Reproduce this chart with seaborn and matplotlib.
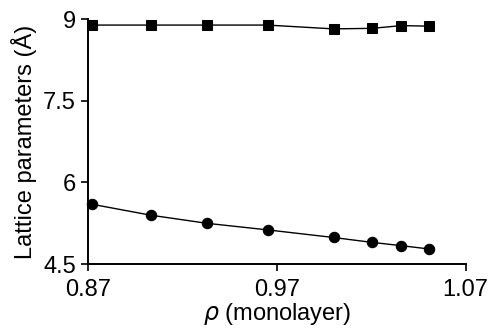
import matplotlib
matplotlib.use("Agg")
import matplotlib.pyplot as plt
import seaborn as sns
import pandas as pd

rho = [0.872, 0.903, 0.933, 0.965, 1.000, 1.0205, 1.036, 1.0505]
lat_b = [8.89, 8.89, 8.89, 8.89, 8.82, 8.83, 8.88, 8.87]
lat_a = [5.60, 5.40, 5.25, 5.13, 4.99, 4.90, 4.84, 4.78]

xticks = [0.87, 0.97, 1.07]
xticklabels = ["0.87", "0.97", "1.07"]
yticks = [4.5, 6, 7.5, 9]
yticklabels = ["4.5", "6", "7.5", "9"]

sns.set_style("ticks")
plt.rcParams['font.family'] = ['Liberation Sans', 'DejaVu Sans']
plt.rcParams['text.color'] = 'black'
plt.rcParams['axes.labelcolor'] = 'black'

fig = plt.figure(figsize=(4.88, 3.29), dpi=100)
ax = fig.add_axes([0.181, 0.197, 0.773, 0.745])

df = pd.DataFrame({"rho": rho, "b": lat_b, "a": lat_a})
sns.lineplot(data=df, x="rho", y="b", ax=ax, color="black", lw=1.0,
             marker="s", markersize=7, markeredgecolor="black", markerfacecolor="black",
             clip_on=False)
sns.lineplot(data=df, x="rho", y="a", ax=ax, color="black", lw=1.0,
             marker="o", markersize=7.5, markeredgecolor="black", markerfacecolor="black",
             clip_on=False)

ax.set_xlim(0.87, 1.07)
ax.set_ylim(4.5, 9)
ax.set_xticks(xticks)
ax.set_xticklabels(xticklabels)
ax.set_yticks(yticks)
ax.set_yticklabels(yticklabels)
ax.tick_params(direction="out", length=5, width=1.2, labelsize=17,
               colors="black", labelcolor="black")
ax.tick_params(axis="x", pad=6)
ax.tick_params(axis="y", pad=4)
for s in ["top", "right"]:
    ax.spines[s].set_visible(False)
for s in ["left", "bottom"]:
    ax.spines[s].set_linewidth(1.4)
    ax.spines[s].set_color("black")
ax.set_xlabel(r"$\rho$ (monolayer)", fontsize=17, labelpad=0, color="black")
ax.set_ylabel("Lattice parameters (Å)", fontsize=17, labelpad=4, color="black")

fig.savefig("out.png", dpi=100)
